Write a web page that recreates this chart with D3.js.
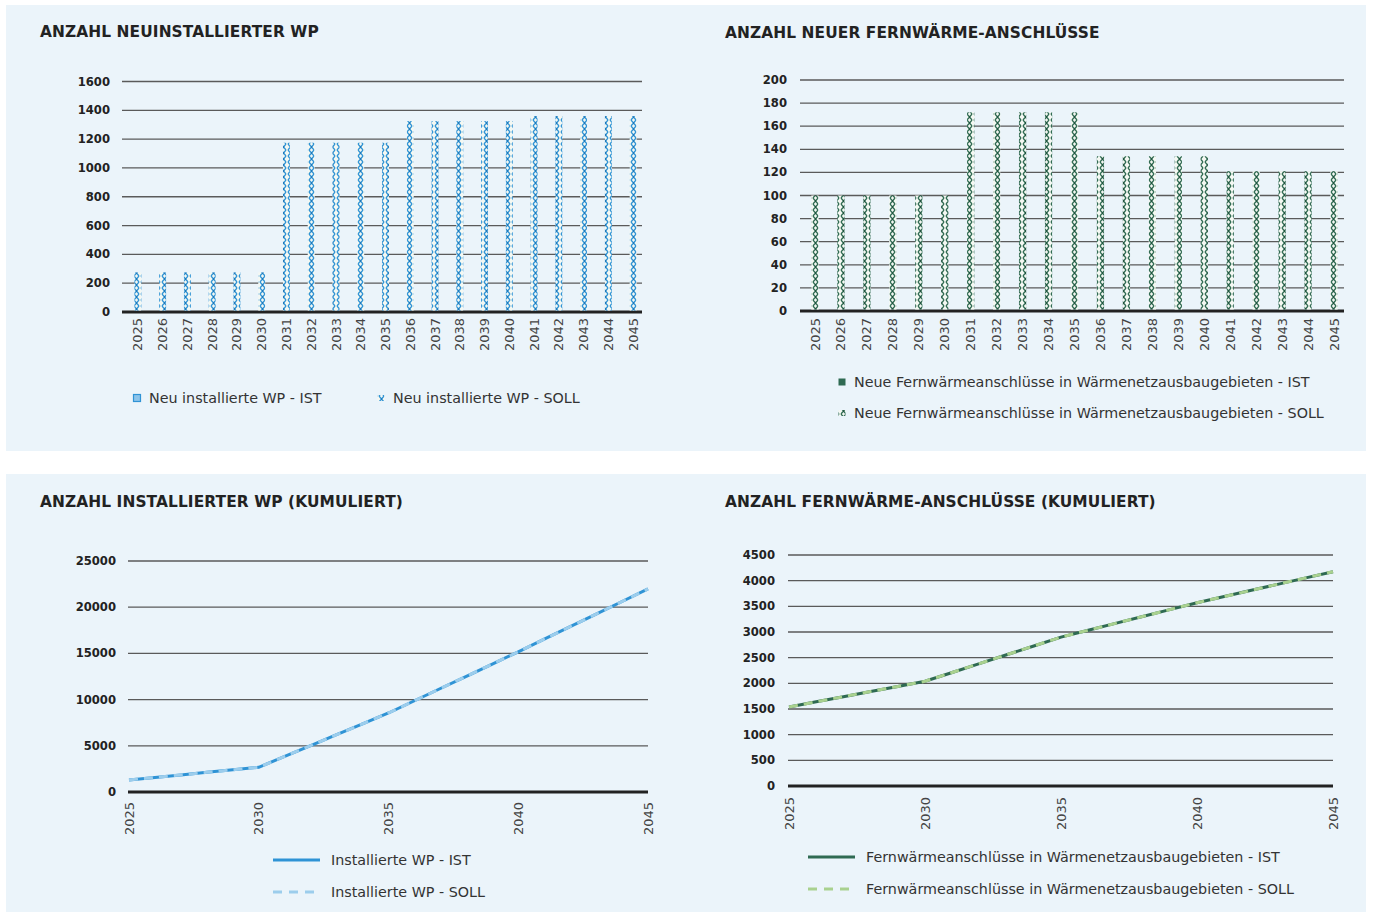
<!DOCTYPE html>
<html lang="de">
<head>
<meta charset="utf-8">
<script src="https://cdn.jsdelivr.net/npm/d3@7"></script>
<style>
  html, body { margin: 0; padding: 0; background: #ffffff; }
  svg { display: block; font-family: "DejaVu Sans", "Noto Sans", sans-serif; }
</style>
</head>
<body>
<svg id="chart" width="1373" height="913"></svg>
<script>
// ---- data ----------------------------------------------------------------
const years = d3.range(2025, 2046).map(String);
const yearTicksCum = ["2025", "2030", "2035", "2040", "2045"];

// new heat pumps per year
const wpNewIst  = [];
const wpNewSoll = [275, 275, 275, 275, 275, 275, 1175, 1175, 1175, 1175, 1175,
                   1325, 1325, 1325, 1325, 1325, 1360, 1360, 1360, 1360, 1360];
const wpNewTicks = [0, 200, 400, 600, 800, 1000, 1200, 1400, 1600];

// new district heating connections per year
const fwNewIst  = [];
const fwNewSoll = [100, 100, 100, 100, 100, 100, 172, 172, 172, 172, 172,
                   134, 134, 134, 134, 134, 121, 121, 121, 121, 121];
const fwNewTicks = [0, 20, 40, 60, 80, 100, 120, 140, 160, 180, 200];

// cumulative heat pumps
const wpCumIst  = [1300, 1575, 1850, 2125, 2400, 2675, 3850, 5025, 6200, 7375, 8550,
                   9875, 11200, 12525, 13850, 15175, 16535, 17895, 19255, 20615, 21975];
const wpCumSoll = [1300, 1575, 1850, 2125, 2400, 2675, 3850, 5025, 6200, 7375, 8550,
                   9875, 11200, 12525, 13850, 15175, 16535, 17895, 19255, 20615, 21975];
const wpCumTicks = [0, 5000, 10000, 15000, 20000, 25000];

// cumulative district heating connections
const fwCumIst  = [1540, 1640, 1740, 1840, 1940, 2040, 2212, 2384, 2556, 2728, 2900,
                   3034, 3168, 3302, 3436, 3570, 3691, 3812, 3933, 4054, 4175];
const fwCumSoll = [1540, 1640, 1740, 1840, 1940, 2040, 2212, 2384, 2556, 2728, 2900,
                   3034, 3168, 3302, 3436, 3570, 3691, 3812, 3933, 4054, 4175];
const fwCumTicks = [0, 500, 1000, 1500, 2000, 2500, 3000, 3500, 4000, 4500];

// ---- styles --------------------------------------------------------------
const PANEL = "#ebf4fa";
const GRID = "#5a5a5a";
const AXIS = "#222222";
const TEXT = "#333333";
const BLUE = "#2f93d5", BLUE_LIGHT = "#9ccdec";
const GREEN = "#2f6a52", GREEN_LIGHT = "#a9d18f";

const svg = d3.select("#chart");

// panel backgrounds
svg.append("rect").attr("x", 6).attr("y", 5).attr("width", 1360).attr("height", 446).attr("fill", PANEL);
svg.append("rect").attr("x", 6).attr("y", 474).attr("width", 1360).attr("height", 438).attr("fill", PANEL);

// hatch patterns for the SOLL bars
const defs = svg.append("defs");
function crossPattern(id, color, dot) {
  const p = defs.append("pattern").attr("id", id)
    .attr("patternUnits", "userSpaceOnUse").attr("width", 7).attr("height", 6);
  p.append("rect").attr("width", 7).attr("height", 6).attr("fill", "#f4f8f2");
  p.append("path").attr("d", "M1,0 L6,6 M6,0 L1,6")
    .attr("stroke", color).attr("stroke-width", 1.3).attr("fill", "none");
  p.append("rect").attr("x", 3).attr("y", 2.3).attr("width", 1.2).attr("height", 1.4).attr("fill", dot);
}
crossPattern("hatchBlue", BLUE, "#1b6fb0");
crossPattern("hatchGreen", GREEN, "#1f4d3a");

function title(x, y, txt) {
  svg.append("text").attr("x", x).attr("y", y).text(txt)
    .attr("font-size", 15.4).attr("font-weight", "bold").attr("fill", "#222")
    .attr("letter-spacing", 0.1);
}

function yGrid(g, y, ticks, x0, x1, labelX) {
  ticks.forEach(t => {
    if (t !== 0) {
      g.append("line").attr("x1", x0).attr("x2", x1).attr("y1", y(t)).attr("y2", y(t))
        .attr("stroke", GRID).attr("stroke-width", 1.3);
    }
    g.append("text").attr("x", labelX).attr("y", y(t)).attr("dy", "0.35em")
      .attr("text-anchor", "end").attr("font-size", 11.6).attr("font-weight", "bold")
      .attr("fill", "#222").text(t);
  });
  g.append("line").attr("x1", x0).attr("x2", x1).attr("y1", y(0)).attr("y2", y(0))
    .attr("stroke", AXIS).attr("stroke-width", 3);
}

function yearLabels(g, xs, labels, top) {
  labels.forEach(l => {
    g.append("text").attr("transform", `translate(${xs(l)},${top}) rotate(-90)`)
      .attr("text-anchor", "end").attr("dy", "0.35em")
      .attr("font-size", 13).attr("fill", "#444").text(l);
  });
}

function barChart(cfg) {
  const g = svg.append("g");
  title(cfg.titleX, cfg.titleY, cfg.title);
  const y = d3.scaleLinear().domain([0, d3.max(cfg.ticks)]).range([cfg.y0, cfg.y1]);
  const x = d3.scaleBand().domain(years).range([cfg.bx0, cfg.bx1])
    .paddingInner(0.72).paddingOuter(0.36);
  yGrid(g, y, cfg.ticks, cfg.gx0, cfg.gx1, cfg.labelX);
  // IST bars (drawn when values exist)
  g.selectAll(null).data(cfg.ist.map((v, i) => ({ year: years[i], v })))
    .join("rect").attr("x", d => x(d.year)).attr("width", x.bandwidth())
    .attr("y", d => y(d.v)).attr("height", d => y(0) - y(d.v)).attr("fill", cfg.color);
  // SOLL bars
  g.selectAll(null).data(cfg.soll.map((v, i) => ({ year: years[i], v })))
    .join("rect").attr("x", d => x(d.year)).attr("width", x.bandwidth())
    .attr("y", d => y(d.v)).attr("height", d => y(0) - y(d.v) - 1.5)
    .attr("fill", `url(#${cfg.pattern})`);
  const xc = l => x(l) + x.bandwidth() / 2;
  yearLabels(g, xc, years, cfg.labelTop);
  // legend
  cfg.legend.forEach(item => {
    if (item.kind === "solid") {
      g.append("rect").attr("x", item.x - 3.5).attr("y", item.y - 3.5).attr("width", 7).attr("height", 7)
        .attr("fill", cfg.lightSquare || cfg.color).attr("stroke", cfg.color).attr("stroke-width", cfg.lightSquare ? 1.2 : 0);
    } else {
      g.append("rect").attr("x", item.x - 3.5).attr("y", item.y - 3).attr("width", 7).attr("height", 6)
        .attr("fill", `url(#${cfg.pattern})`);
    }
    g.append("text").attr("x", item.x + 12).attr("y", item.y).attr("dy", "0.35em")
      .attr("font-size", 14.3).attr("fill", TEXT).text(item.text);
  });
}

function lineChart(cfg) {
  const g = svg.append("g");
  title(cfg.titleX, cfg.titleY, cfg.title);
  const y = d3.scaleLinear().domain([0, d3.max(cfg.ticks)]).range([cfg.y0, cfg.y1]);
  const x = d3.scalePoint().domain(years).range([cfg.px0, cfg.px1]);
  yGrid(g, y, cfg.ticks, cfg.gx0, cfg.gx1, cfg.labelX);
  const line = d3.line().x((d, i) => x(years[i])).y(d => y(d));
  g.append("path").attr("d", line(cfg.ist)).attr("fill", "none")
    .attr("stroke", cfg.color).attr("stroke-width", 3);
  g.append("path").attr("d", line(cfg.soll)).attr("fill", "none")
    .attr("stroke", cfg.light).attr("stroke-width", 3).attr("stroke-dasharray", "9,6");
  yearLabels(g, x, yearTicksCum, cfg.labelTop);
  cfg.legend.forEach((item, i) => {
    g.append("line").attr("x1", item.x).attr("x2", item.x + 47).attr("y1", item.y).attr("y2", item.y)
      .attr("stroke", i === 0 ? cfg.color : cfg.light).attr("stroke-width", 3)
      .attr("stroke-dasharray", i === 0 ? null : "9,7");
    g.append("text").attr("x", item.x + 58).attr("y", item.y).attr("dy", "0.35em")
      .attr("font-size", 14.3).attr("fill", TEXT).text(item.text);
  });
}

barChart({
  title: "ANZAHL NEUINSTALLIERTER WP", titleX: 40, titleY: 37,
  ticks: wpNewTicks, y0: 312, y1: 81.5, gx0: 122, gx1: 642, labelX: 110,
  bx0: 125.5, bx1: 645.5, ist: wpNewIst, soll: wpNewSoll,
  color: BLUE, lightSquare: "#8cc4ea", pattern: "hatchBlue", labelTop: 318,
  legend: [
    { kind: "solid", x: 137, y: 398, text: "Neu installierte WP - IST" },
    { kind: "hatch", x: 381, y: 398, text: "Neu installierte WP - SOLL" }
  ]
});

barChart({
  title: "ANZAHL NEUER FERNWÄRME-ANSCHLÜSSE", titleX: 725, titleY: 38,
  ticks: fwNewTicks, y0: 311, y1: 80, gx0: 800, gx1: 1344, labelX: 787,
  bx0: 802, bx1: 1347, ist: fwNewIst, soll: fwNewSoll,
  color: GREEN, pattern: "hatchGreen", labelTop: 318,
  legend: [
    { kind: "solid", x: 842, y: 382, text: "Neue Fernwärmeanschlüsse in Wärmenetzausbaugebieten - IST" },
    { kind: "hatch", x: 842, y: 413, text: "Neue Fernwärmeanschlüsse in Wärmenetzausbaugebieten - SOLL" }
  ]
});

lineChart({
  title: "ANZAHL INSTALLIERTER WP (KUMULIERT)", titleX: 40, titleY: 507,
  ticks: wpCumTicks, y0: 792, y1: 561, gx0: 128, gx1: 648, labelX: 116,
  px0: 129, px1: 648, ist: wpCumIst, soll: wpCumSoll,
  color: BLUE, light: BLUE_LIGHT, labelTop: 802,
  legend: [
    { x: 273, y: 860, text: "Installierte WP - IST" },
    { x: 273, y: 892, text: "Installierte WP - SOLL" }
  ]
});

lineChart({
  title: "ANZAHL FERNWÄRME-ANSCHLÜSSE (KUMULIERT)", titleX: 725, titleY: 507,
  ticks: fwCumTicks, y0: 786, y1: 555, gx0: 788, gx1: 1333, labelX: 775,
  px0: 789, px1: 1333, ist: fwCumIst, soll: fwCumSoll,
  color: GREEN, light: GREEN_LIGHT, labelTop: 797,
  legend: [
    { x: 808, y: 857, text: "Fernwärmeanschlüsse in Wärmenetzausbaugebieten - IST" },
    { x: 808, y: 889, text: "Fernwärmeanschlüsse in Wärmenetzausbaugebieten - SOLL" }
  ]
});
</script>
</body>
</html>
